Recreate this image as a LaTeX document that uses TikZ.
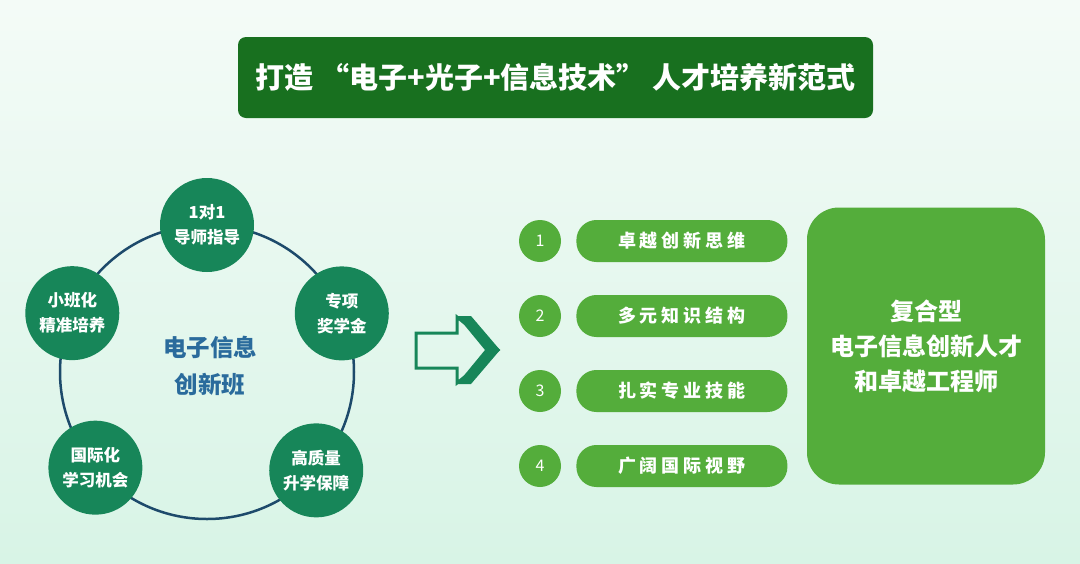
\documentclass[tikz,border=0pt]{standalone}
\usepackage{fontspec}
\setmainfont{Noto Sans CJK SC}
\newfontfamily\widecjk[LetterSpace=22]{Noto Sans CJK SC}
\usepackage{xcolor}
\usepackage{tikz}
\usetikzlibrary{calc, positioning}

\definecolor{titlegreen}{HTML}{18701F}
\definecolor{ringblue}{HTML}{1D4A6B}
\definecolor{tealgreen}{HTML}{178659}
\definecolor{leafgreen}{HTML}{54AD3B}
\definecolor{centerblue}{HTML}{2A6B9C}
\definecolor{bgtop}{HTML}{F4FBF7}
\definecolor{bgbottom}{HTML}{D8F4E6}

\begin{document}
\begin{tikzpicture}[x=1pt, y=-1pt,
    feature/.style={circle, fill=tealgreen, text=white, minimum size=94pt, inner sep=0pt,
      align=center, font=\fontsize{16.5}{25}\selectfont\bfseries},
    numdot/.style={circle, fill=leafgreen, text=white, minimum size=42pt, inner sep=0pt,
      font=\fontsize{16}{18}\selectfont},
    pill/.style={rounded corners=20pt, fill=leafgreen, text=white, minimum width=211pt,
      minimum height=42pt, inner sep=0pt, font=\widecjk\fontsize{18}{20}\selectfont\bfseries}]

    % 1. Nền và khung
    \useasboundingbox (0,0) rectangle (1080,563);
    \shade[top color=bgtop, bottom color=bgbottom] (0,0) rectangle (1080,563);

    % 2. Tiêu đề
    \node[fill=titlegreen, rounded corners=8pt, minimum width=635pt, minimum height=81pt,
      text=white, font=\fontsize{29}{32}\selectfont\bfseries] (title) at (555.5,77.5)
      {打造\ “电子+光子+信息技术”\ 人才培养新范式};

    % 3. Vòng tròn và năm nút
    \coordinate (ctr) at (207,372);
    \draw[ringblue, line width=2.5pt] (ctr) circle (147pt);
    \node[feature] (mentor) at ($(ctr)+(90:147pt)$) {1对1\\导师指导};
    \node[feature] (award) at ($(ctr)+(23.5:147pt)$) {专项\\奖学金};
    \node[feature] (study) at ($(ctr)+(-42:147pt)$) {高质量\\升学保障};
    \node[feature] (abroad) at ($(ctr)+(220.6:147pt)$) {国际化\\学习机会};
    \node[feature] (small) at ($(ctr)+(156.4:147pt)$) {小班化\\精准培养};
    \node[text=centerblue, align=center, font=\fontsize{23.5}{37}\selectfont\bfseries]
      (core) at (210,366) {电子信息\\创新班};

    % 4. Mũi tên rỗng
    \draw[tealgreen, line width=3pt, line join=miter]
      (416,333) -- (457,333) -- (457,317) -- (498,350) -- (457,383) -- (457,368) -- (416,368) -- cycle;
    \fill[tealgreen] (457,316) -- (471,316) -- (500,350) -- (471,384) -- (457,384) -- (485,350) -- cycle;

    % 5. Bốn mục đánh số
    \foreach \txt [count=\i] in {卓越创新思维, 多元知识结构, 扎实专业技能, 广阔国际视野} {
      \node[numdot] (num\i) at (540,{241+75*(\i-1)}) {\i};
      \node[pill, right=15pt of num\i] (item\i) {\txt};
    }

    % 6. Khối kết quả
    \node[fill=leafgreen, rounded corners=32pt, minimum width=238pt, minimum height=277pt,
      text=white, align=center, font=\fontsize{24}{35}\selectfont\bfseries] (goal) at (926,346)
      {复合型\\电子信息创新人才\\和卓越工程师};

\end{tikzpicture}
\end{document}
